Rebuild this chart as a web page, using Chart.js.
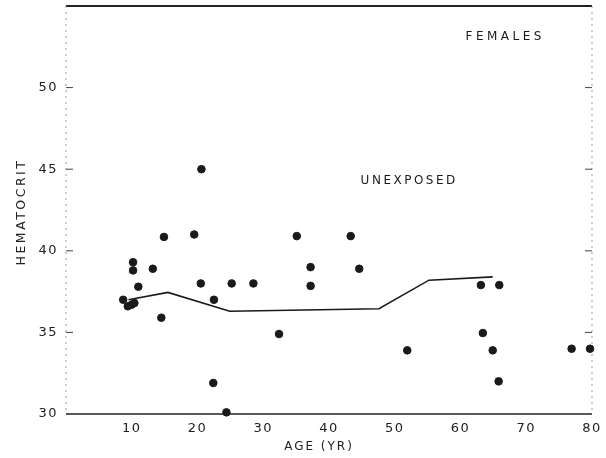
<!DOCTYPE html>
<html>
<head>
<meta charset="utf-8">
<script src="https://cdn.jsdelivr.net/npm/chart.js@4"></script>
<style>
  html, body { margin: 0; padding: 0; background: #fff; }
  #wrap { width: 606px; height: 458px; position: relative; }
</style>
</head>
<body>
<div id="wrap"><canvas id="myChart"></canvas></div>
<script>
// individual subjects: age (yr) and hematocrit
const ages = [8.7, 9.4, 10.0, 10.4, 10.2, 10.2, 11.0, 13.2, 14.5, 14.9, 19.5, 20.5, 20.6, 22.4, 22.5, 24.4,
  25.2, 28.5, 32.4, 35.1, 37.2, 37.2, 43.3, 44.6, 51.9, 63.1, 63.4, 64.9, 65.8, 65.9, 76.9, 79.7];
const hct = [37.0, 36.6, 36.7, 36.8, 39.3, 38.8, 37.8, 38.9, 35.9, 40.85, 41.0, 38.0, 45.0, 31.9, 37.0, 30.1,
  38.0, 38.0, 34.9, 40.9, 39.0, 37.85, 40.9, 38.9, 33.9, 37.9, 34.96, 33.9, 32.0, 37.9, 34.0, 34.0];

// reference (normal) curve
const refAges = [9.5, 15.5, 24.9, 47.6, 55.2, 64.9];
const refHct = [37.0, 37.45, 36.3, 36.45, 38.2, 38.4];

// axis ticks
const xTicks = [10, 20, 30, 40, 50, 60, 70, 80];
const yTicks = [30, 35, 40, 45, 50];

const FONT = "'DejaVu Sans', sans-serif";
const INK = '#1a1a1a';

// labels placed in data space
const notes = [
  { text: 'FEMALES', x: 66.8, y: 53.1, spacing: '3.5px' },
  { text: 'UNEXPOSED', x: 52.2, y: 44.3, spacing: '2.5px' }
];

const points = ages.map((a, i) => ({ x: a, y: hct[i] }));
const refLine = refAges.map((a, i) => ({ x: a, y: refHct[i] }));

// frame, inward tick marks, notes and axis titles
const framePlugin = {
  id: 'frame',
  beforeDraw(chart) {
    chart.ctx.letterSpacing = '1.5px';
  },
  beforeDatasetsDraw(chart) {
    const { ctx, chartArea: a, scales } = chart;
    ctx.save();
    ctx.letterSpacing = '0px';
    // top border
    ctx.strokeStyle = '#222';
    ctx.lineWidth = 2;
    ctx.beginPath();
    ctx.moveTo(a.left, a.top);
    ctx.lineTo(a.right, a.top);
    ctx.stroke();
    // bottom border
    ctx.lineWidth = 1.5;
    ctx.beginPath();
    ctx.moveTo(a.left, a.bottom);
    ctx.lineTo(a.right, a.bottom);
    ctx.stroke();
    // faint broken side borders
    ctx.strokeStyle = '#9a9a9a';
    ctx.lineWidth = 1;
    ctx.setLineDash([2, 4]);
    ctx.beginPath();
    ctx.moveTo(a.left, a.top);
    ctx.lineTo(a.left, a.bottom);
    ctx.moveTo(a.right, a.top);
    ctx.lineTo(a.right, a.bottom);
    ctx.stroke();
    ctx.setLineDash([]);
    // inward ticks on both sides
    ctx.strokeStyle = '#444';
    ctx.lineWidth = 1;
    yTicks.slice(1).forEach(v => {
      const py = scales.y.getPixelForValue(v);
      ctx.beginPath();
      ctx.moveTo(a.left, py);
      ctx.lineTo(a.left + 7, py);
      ctx.moveTo(a.right, py);
      ctx.lineTo(a.right - 7, py);
      ctx.stroke();
    });
    // notes
    ctx.fillStyle = INK;
    ctx.font = '12px ' + FONT;
    ctx.textAlign = 'center';
    ctx.textBaseline = 'middle';
    notes.forEach(n => {
      ctx.letterSpacing = n.spacing;
      ctx.fillText(n.text, scales.x.getPixelForValue(n.x), scales.y.getPixelForValue(n.y));
    });
    // axis titles
    ctx.fillStyle = '#222';
    ctx.letterSpacing = '2px';
    ctx.fillText('AGE (YR)', (a.left + a.right) / 2 - 10, a.bottom + 33);
    ctx.translate(22, (a.top + a.bottom) / 2 + 2);
    ctx.rotate(-Math.PI / 2);
    ctx.font = '12.5px ' + FONT;
    ctx.letterSpacing = '2.5px';
    ctx.fillText('HEMATOCRIT', 0, 0);
    ctx.restore();
  }
};

const ctx = document.getElementById('myChart');
new Chart(ctx, {
  type: 'scatter',
  data: {
    datasets: [{
      label: 'subjects',
      data: points,
      backgroundColor: INK,
      borderColor: INK,
      pointRadius: 3.8,
      pointHoverRadius: 3.8,
      clip: false
    }, {
      label: 'reference',
      type: 'line',
      data: refLine,
      borderColor: INK,
      borderWidth: 1.6,
      pointRadius: 0,
      fill: false,
      tension: 0
    }]
  },
  options: {
    responsive: true,
    maintainAspectRatio: false,
    animation: false,
    layout: { padding: { top: 6, right: 14, bottom: 2, left: 0 } },
    plugins: {
      legend: { display: false },
      tooltip: { enabled: false }
    },
    scales: {
      x: {
        type: 'linear',
        min: 0,
        max: 80,
        afterBuildTicks: s => { s.ticks = xTicks.map(v => ({ value: v })); },
        afterFit: s => { s.height = 42; s.paddingLeft = 0; s.paddingRight = 0; },
        grid: { display: false, drawTicks: false },
        border: { display: false },
        ticks: {
          color: '#222',
          font: { family: FONT, size: 13 },
          padding: 7,
          maxRotation: 0
        }
      },
      y: {
        min: 30,
        max: 55,
        afterBuildTicks: s => { s.ticks = yTicks.map(v => ({ value: v })); },
        afterFit: s => { s.width = 66; s.paddingTop = 0; s.paddingBottom = 0; },
        grid: { display: false, drawTicks: false },
        border: { display: false },
        ticks: {
          color: '#222',
          font: { family: FONT, size: 13 },
          padding: 8
        }
      }
    }
  },
  plugins: [framePlugin]
});
</script>
</body>
</html>
